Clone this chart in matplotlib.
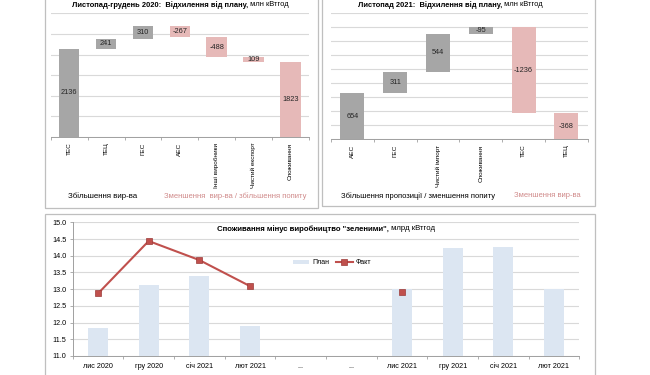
import numpy as np
import matplotlib
matplotlib.use("Agg")
import matplotlib.pyplot as plt
from matplotlib.patches import Rectangle

plt.rcParams['font.family'] = ['Liberation Sans', 'DejaVu Sans']

# ---------------- data ----------------
left_cats = ["ТЕС", "ТЕЦ", "ГЕС", "АЕС", "Інші виробники", "Чистий експорт", "Споживання"]
left_values = [2136, 241, 310, -267, -488, -109, 1823]
left_labels = ["2136", "241", "310", "-267", "-488", "109", "1823"]
left_total = [False, False, False, False, False, False, True]
left_kind = ["up", "up", "up", "down", "down", "down", "down"]

right_cats = ["АЕС", "ГЕС", "Чистий імпорт", "Споживання", "ТЕС", "ТЕЦ"]
right_values = [654, 311, 544, 95, -1236, -368]
right_labels = ["654", "311", "544", "-95", "-1236", "-368"]
right_kind = ["up", "up", "up", "up", "down", "down"]

months = ["лис 2020", "гру 2020", "січ 2021", "лют 2021", "...", "...",
          "лис 2021", "гру 2021", "січ 2021", "лют 2021"]
plan = [11.85, 13.11, 13.38, 11.89, np.nan, np.nan, 13.01, 14.22, 14.25, 13.0]
fact = [12.87, 14.44, 13.87, 13.09, np.nan, np.nan, 12.92, np.nan, np.nan, np.nan]

# ---------------- style ----------------
GREY = "#a6a6a6"
PINK = "#e6b9b8"
PINK_TXT = "#d08a8a"
BLUE = "#dce6f2"
RED = "#c0504d"
GRID = "#d9d9d9"
FRAME = "#bfbfbf"
W, H = 650, 375

fig = plt.figure(figsize=(6.5, 3.75), dpi=100)


def fig_rect(x0, y0, x1, y1):
    # pixel coords (top-left origin) -> figure fraction [left, bottom, width, height]
    return [x0 / W, 1 - y1 / H, (x1 - x0) / W, (y1 - y0) / H]


def frame(x0, y0, x1, y1):
    l, b, w, h = fig_rect(x0, y0, x1, y1)
    fig.patches.append(Rectangle((l, b), w, h, transform=fig.transFigure,
                                 fill=False, edgecolor=FRAME, lw=0.9, zorder=0))


def ftext(x, y, s, **kw):
    fig.text(x / W, 1 - y / H, s, **kw)


frame(45, -5, 318, 207.5)
frame(322, -5, 594.5, 206)
frame(45, 214, 594.5, 380)


def waterfall(ax, cats, values, labels, kinds, totals, ymax, step):
    x = np.arange(len(cats))
    run = 0
    bottoms, heights = [], []
    for v, t in zip(values, totals):
        if t:
            bottoms.append(0)
            heights.append(v)
        else:
            if v >= 0:
                bottoms.append(run)
                heights.append(v)
            else:
                bottoms.append(run + v)
                heights.append(-v)
            run += v
    colors = [GREY if k == "up" else PINK for k in kinds]
    ax.bar(x, heights, bottom=bottoms, width=0.56, color=colors, zorder=2)
    for xi, b, h, lab in zip(x, bottoms, heights, labels):
        ax.text(xi, b + h / 2, lab, ha="center", va="center", fontsize=5.3,
                color="#262626", zorder=3)
    ax.set_xlim(-0.5, len(cats) - 0.5)
    ax.set_ylim(0, ymax)
    ax.set_yticks(np.arange(0, ymax + 1, step))
    ax.yaxis.grid(True, color=GRID, lw=0.8)
    ax.set_axisbelow(True)
    ax.tick_params(axis="y", length=0, labelleft=False)
    ax.set_xticks(x)
    ax.set_xticklabels(cats, rotation=90, fontsize=4.6, va="top")
    ax.tick_params(axis="x", which="major", length=0, pad=4)
    ax.set_xticks(np.arange(-0.5, len(cats), 1), minor=True)
    ax.tick_params(axis="x", which="minor", length=2.5, color="#a0a0a0", width=0.6)
    for s in ["top", "right", "left"]:
        ax.spines[s].set_visible(False)
    ax.spines["bottom"].set_color("#a0a0a0")
    ax.spines["bottom"].set_linewidth(0.7)


# ---------------- top-left ----------------
ax1 = fig.add_axes(fig_rect(50.7, 13.3, 309, 137))
waterfall(ax1, left_cats, left_values, left_labels, left_kind, left_total, 3000, 500)
ftext(248, 5, "Листопад-грудень 2020:  Відхилення від плану,", ha="right", va="center",
      fontsize=5.4, fontweight="bold")
ftext(248, 5, " млн кВтгод", ha="left", va="center", fontsize=5.4)
ftext(68, 196, "Збільшення вир-ва", ha="left", va="center", fontsize=5.7)
ftext(164, 196, "Зменшення  вир-ва / збільшення попиту", ha="left", va="center",
      fontsize=5.5, color=PINK_TXT)

# ---------------- top-right ----------------
ax2 = fig.add_axes(fig_rect(331, 13.3, 587.7, 139))
waterfall(ax2, right_cats, right_values, right_labels, right_kind,
          [False] * len(right_cats), 1800, 200)
ftext(502, 5, "Листопад 2021:  Відхилення від плану,", ha="right", va="center",
      fontsize=5.4, fontweight="bold")
ftext(502, 5, " млн кВтгод", ha="left", va="center", fontsize=5.4)
ftext(341, 196, "Збільшення пропозиції / зменшення попиту", ha="left", va="center",
      fontsize=5.5)
ftext(514, 196, "Зменшення вир-ва", ha="left", va="center", fontsize=5.5, color=PINK_TXT)

# ---------------- bottom ----------------
ax3 = fig.add_axes(fig_rect(72.7, 222.3, 579.3, 356))
xb = np.arange(len(months))
bars = ax3.bar(xb, np.array(plan) - 11.0, bottom=11.0, width=0.39, color=BLUE, zorder=2,
               label="План")
line, = ax3.plot(xb, fact, color=RED, lw=1.5, marker="s", markersize=4.2,
                 markerfacecolor=RED, markeredgecolor="#9b3b39", markeredgewidth=0.5,
                 zorder=3, label="Факт")
ax3.set_xlim(-0.5, len(months) - 0.5)
ax3.set_ylim(11.0, 15.0)
ax3.set_yticks(np.arange(11.0, 15.01, 0.5))
ax3.set_yticklabels([f"{v:.1f}" for v in np.arange(11.0, 15.01, 0.5)], fontsize=5.2)
ax3.yaxis.grid(True, color=GRID, lw=0.8)
ax3.set_axisbelow(True)
ax3.tick_params(axis="y", length=2.5, color="#a0a0a0", width=0.6, pad=2)
ax3.set_xticks(xb)
ax3.set_xticklabels(months, fontsize=5.2)
ax3.tick_params(axis="x", which="major", length=0, pad=5)
ax3.set_xticks(np.arange(-0.5, len(months), 1), minor=True)
ax3.tick_params(axis="x", which="minor", length=2.5, color="#a0a0a0", width=0.6)
for s in ["top", "right"]:
    ax3.spines[s].set_visible(False)
for s in ["bottom", "left"]:
    ax3.spines[s].set_color("#a0a0a0")
    ax3.spines[s].set_linewidth(0.7)

ftext(389, 229, "Споживання мінус виробництво \"зеленими\",", ha="right", va="center",
      fontsize=5.6, fontweight="bold")
ftext(389, 229, " млрд кВтгод", ha="left", va="center", fontsize=5.6)
leg = ax3.legend([bars, line], ["План", "Факт"], loc="center",
                 bbox_to_anchor=(332 / W, 1 - 263 / H),
                 bbox_transform=fig.transFigure, ncol=2, frameon=False, fontsize=5,
                 handlelength=2.4, handleheight=0.5, columnspacing=1.0,
                 handletextpad=0.4)

fig.savefig("out.png", dpi=100, facecolor="white")
